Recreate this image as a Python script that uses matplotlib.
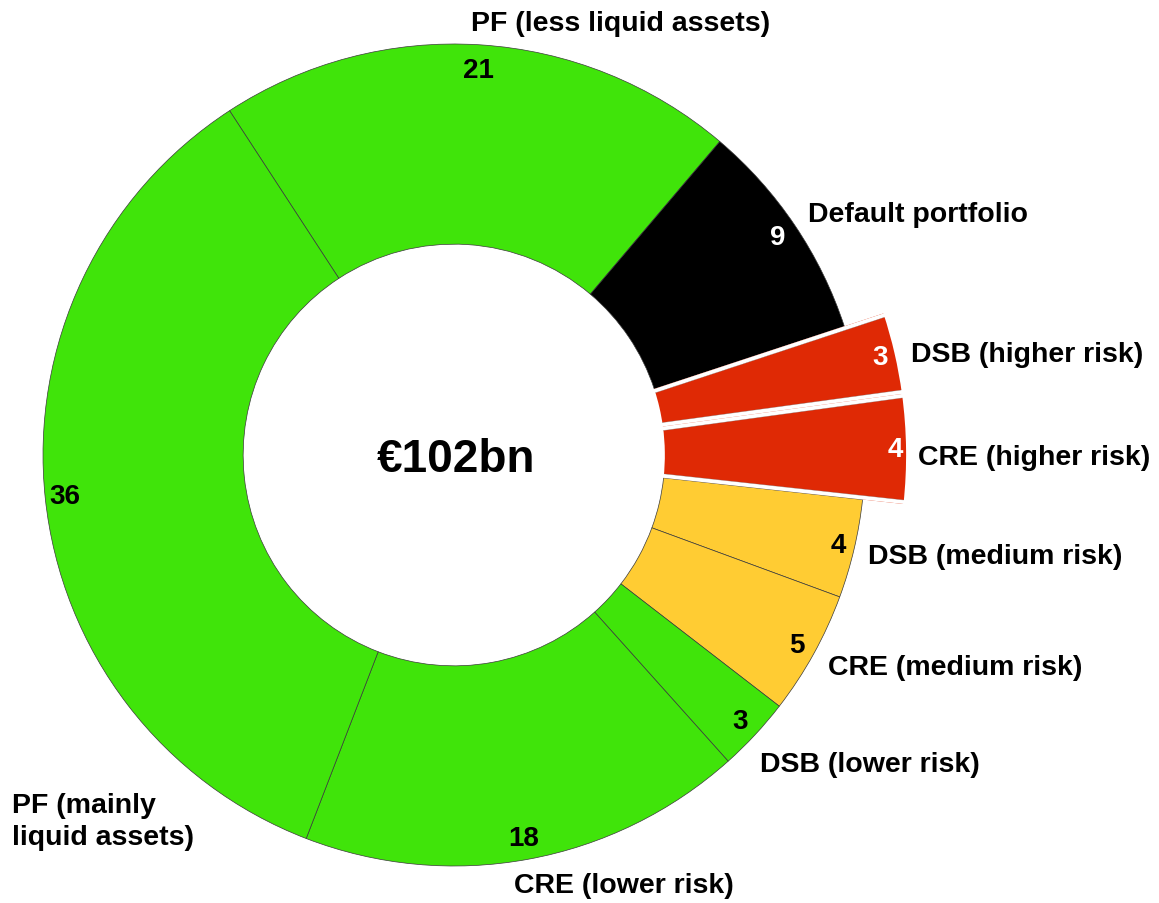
import numpy as np
import matplotlib
matplotlib.use("Agg")
import matplotlib.pyplot as plt

plt.rcParams['font.family'] = ['Liberation Sans', 'DejaVu Sans']

# segments, clockwise from the top-left boundary
labels = ['PF (less liquid assets)', 'Default portfolio', 'DSB (higher risk)',
          'CRE (higher risk)', 'DSB (medium risk)', 'CRE (medium risk)',
          'DSB (lower risk)', 'CRE (lower risk)', 'PF (mainly\nliquid assets)']
values = [21, 9, 3, 4, 4, 5, 3, 18, 36]
total_text = '€102bn'

green = '#40E40A'
red = '#DF2905'
yellow = '#FFCC33'
colors = [green, 'black', red, red, yellow, yellow, green, green, green]
value_colors = ['black', 'white', 'white', 'white', 'black', 'black', 'black', 'black', 'black']
highlight = [False, False, True, True, False, False, False, False, False]

# layout (in units of the outer radius, 411 px)
R_PX = 411
CX, CY = 454, 456
value_r = [0.939, 0.949, 1.064, 1.075, 0.961, 0.953, 0.95, 0.947, 0.952]
label_pos = [(0.405, 1.051, 'center'), (0.861, 0.586, 'left'), (1.112, 0.246, 'left'),
             (1.129, -0.005, 'left'), (1.007, -0.246, 'left'), (0.910, -0.516, 'left'),
             (0.745, -0.752, 'left'), (0.414, -1.046, 'center'), (-1.075, -0.891, 'left')]

fig = plt.figure(figsize=(11.59, 9.04), dpi=100)
ax = fig.add_axes([0, 0, 1, 1])

ring_w = 0.487
wedges, _ = ax.pie(values, colors=colors, startangle=123.1, counterclock=False,
                   radius=1, wedgeprops=dict(width=ring_w, edgecolor='#3a3a3a', linewidth=0.5))

# highlighted segments stick out further and are cut off by white gaps
gap = 4 / R_PX
gap_pt = 4 * 72 / 100
big_r = 1.1
for w, h in zip(wedges, highlight):
    if not h:
        continue
    inner = w.r - w.width
    w.set_radius(big_r)
    w.set_width(big_r - inner)
    w.set_edgecolor('none')
    for a, sgn in [(w.theta2, 1), (w.theta1, -1)]:
        t = np.deg2rad(a)
        nx, ny = sgn * np.sin(t), -sgn * np.cos(t)   # points into the wedge
        rr = np.array([inner - 0.03, big_r + 0.01])
        ax.plot(rr * np.cos(t) + nx * gap / 2, rr * np.sin(t) + ny * gap / 2,
                color='white', lw=gap_pt, solid_capstyle='butt', zorder=3)
        re = np.array([inner, big_r])
        ax.plot(re * np.cos(t) + nx * gap, re * np.sin(t) + ny * gap,
                color='#6a6a6a', lw=0.4, ls=(0, (1, 1)), zorder=3)

for w, v, r, c in zip(wedges, values, value_r, value_colors):
    mid = np.deg2rad((w.theta1 + w.theta2) / 2)
    ax.text(r * np.cos(mid), r * np.sin(mid), str(v), color=c,
            fontsize=20, fontweight='bold', ha='center', va='center', zorder=4)

for lab, (x, y, ha) in zip(labels, label_pos):
    ax.text(x, y, lab, fontsize=20.5, fontweight='bold', ha=ha, va='center',
            linespacing=1.3)

ax.text(0.005, -0.01, total_text, fontsize=33, fontweight='bold', ha='center', va='center')

ax.set_xlim(-CX / R_PX, (1159 - CX) / R_PX)
ax.set_ylim(-(904 - CY) / R_PX, CY / R_PX)
ax.set_aspect('equal')
ax.axis('off')

fig.savefig('out.png', dpi=100)
